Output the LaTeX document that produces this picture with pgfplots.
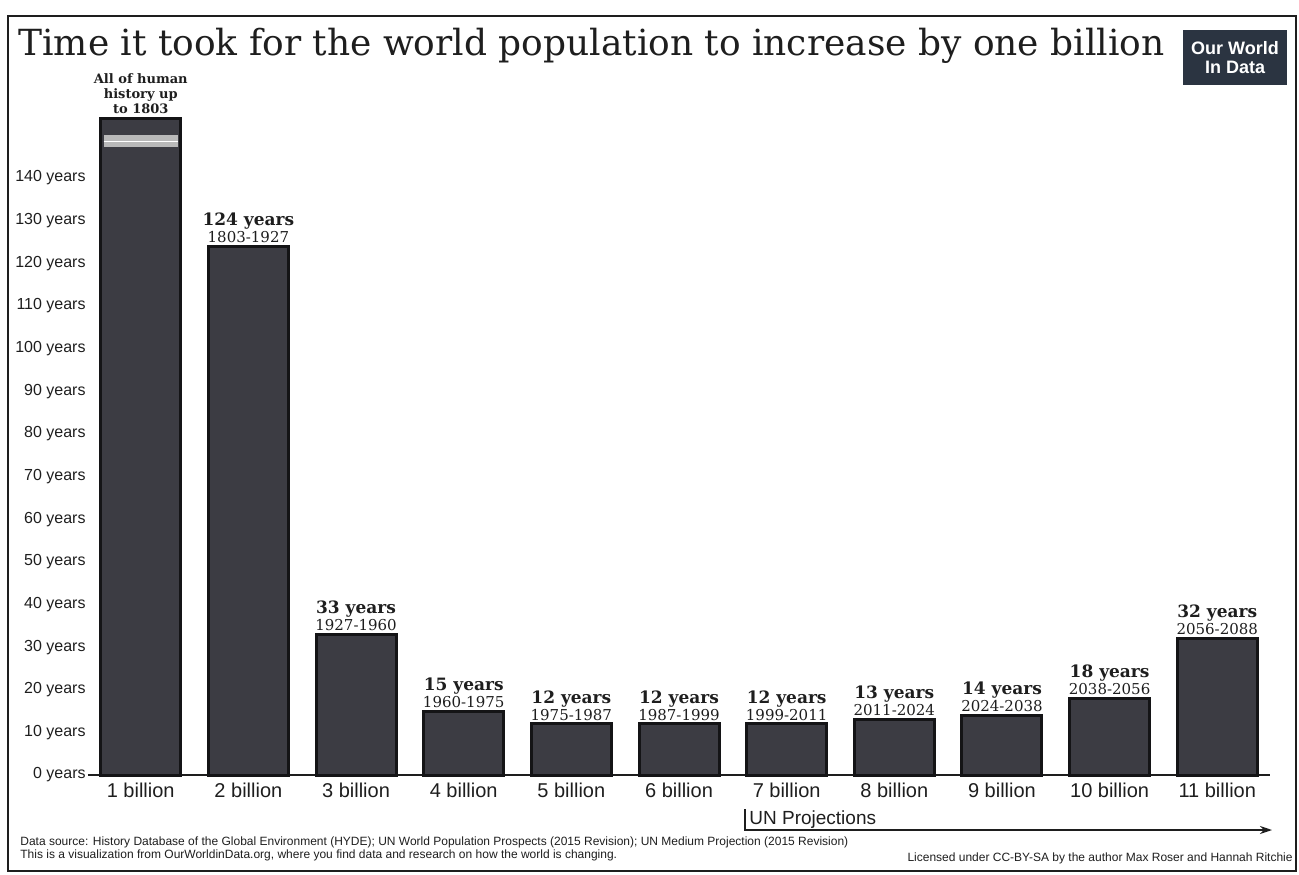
\documentclass[border=0pt]{standalone}
\usepackage{pgfplots}
\pgfplotsset{compat=1.18}
\usepackage{pgfplotstable}
\usepackage{graphicx}
\usepackage{fontspec}
\setsansfont{Liberation Sans}
\newfontfamily\labelserif{DejaVu Serif}
\usetikzlibrary{arrows.meta}

\definecolor{barfill}{HTML}{3C3C43}
\definecolor{baredge}{HTML}{141416}
\definecolor{owid}{HTML}{2B3441}
\definecolor{ink}{HTML}{1E1E1E}

% Years needed for each further billion (x = position of the category)
\pgfplotstableread{
x  y   range
1  124 1803-1927
2  33  1927-1960
3  15  1960-1975
4  12  1975-1987
5  12  1987-1999
6  12  1999-2011
7  13  2011-2024
8  14  2024-2038
9  18  2038-2056
10 32  2056-2088
}\popdata

\begin{document}
\begin{tikzpicture}
% page and frame
\path (0pt,0pt) rectangle (649.5pt,437pt);
\draw[line width=1pt, ink] (4pt,1.5pt) rectangle (648pt,429pt);

% title
\node[anchor=base west, inner sep=0, text=ink] at (9pt,409pt)
  {\resizebox{573pt}{!}{\labelserif Time it took for the world population to increase by one billion}};

% logo
\fill[owid] (591.5pt,394.5pt) rectangle (643.5pt,422pt);
\node[text=white, align=center, inner sep=0,
      font=\sffamily\bfseries\fontsize{9}{9.5}\selectfont] at (617.5pt,408.2pt) {Our World\\In Data};

\begin{axis}[
  at={(44pt,49.5pt)}, anchor=south west,
  scale only axis, width=591pt, height=332.6pt,
  xmin=-0.49, xmax=10.49, ymin=0, ymax=156,
  clip=false,
  axis x line=bottom, axis y line=left,
  x axis line style={-, line width=1.2pt, draw=ink},
  y axis line style={draw=none},
  major tick length=0pt,
  /pgf/number format/assume math mode=true,
  ytick={0,10,...,140},
  yticklabel={\pgfmathprintnumber{\tick} years},
  yticklabel style={font=\sffamily\fontsize{8}{9}\selectfont, text=ink, inner sep=1pt},
  xtick={0,...,10},
  xticklabels={1 billion,2 billion,3 billion,4 billion,5 billion,6 billion,7 billion,8 billion,9 billion,10 billion,11 billion},
  xticklabel style={font=\sffamily\fontsize{10}{11}\selectfont, text=ink, inner sep=1pt, yshift=-3pt},
]
% first billion: all of human history up to 1803 (bar shown cut off)
\addplot[ybar, bar width=40pt, bar shift=0pt, fill=barfill, draw=baredge, line width=1.5pt]
  coordinates {(0,154)};
\fill[gray!55] (axis cs:-0.345,147.3) rectangle (axis cs:0.345,150.0);
\draw[white, line width=0.8pt] (axis cs:-0.345,148.6) -- (axis cs:0.345,148.6);
\node[anchor=south, align=center, inner sep=2pt, text=ink,
      font=\labelserif\bfseries\fontsize{6.5}{7.5}\selectfont] at (axis cs:0,154)
  {All of human\\history up\\to 1803};

% every further billion, labelled with its years and its span
\addplot[ybar, bar width=40pt, bar shift=0pt, fill=barfill, draw=baredge, line width=1.5pt,
  point meta=explicit symbolic,
  visualization depends on={y\as\yrs},
  nodes near coords={\textbf{\pgfmathprintnumber[fixed,precision=0]{\yrs} years}\\{\fontsize{7.5}{8}\selectfont\pgfplotspointmeta}},
  nodes near coords style={anchor=south, align=center, inner sep=1pt, text=ink,
    font=\labelserif\fontsize{8.5}{8.5}\selectfont},
] table[x=x, y=y, meta=range] {\popdata};
\end{axis}

% projections marker
\draw[ink, line width=0.8pt, -{Stealth[length=6pt, width=4pt]}] (372.5pt,32.5pt) -- (372.5pt,22pt) -- (636pt,22pt);
\node[anchor=base west, inner sep=0, text=ink, font=\sffamily\fontsize{9.5}{10}\selectfont]
  at (374.5pt,25pt) {UN Projections};

% sources and licence
\node[anchor=base west, inner sep=0, text=ink, font=\sffamily\fontsize{6}{7}\selectfont] at (10pt,14.5pt)
  {Data source: History Database of the Global Environment (HYDE); UN World Population Prospects (2015 Revision); UN Medium Projection (2015 Revision)};
\node[anchor=base west, inner sep=0, text=ink, font=\sffamily\fontsize{6}{7}\selectfont] at (10pt,8pt)
  {This is a visualization from OurWorldinData.org, where you find data and research on how the world is changing.};
\node[anchor=base east, inner sep=0, text=ink, font=\sffamily\fontsize{6}{7}\selectfont] at (646.5pt,6.5pt)
  {Licensed under CC-BY-SA by the author Max Roser and Hannah Ritchie};
\end{tikzpicture}
\end{document}
